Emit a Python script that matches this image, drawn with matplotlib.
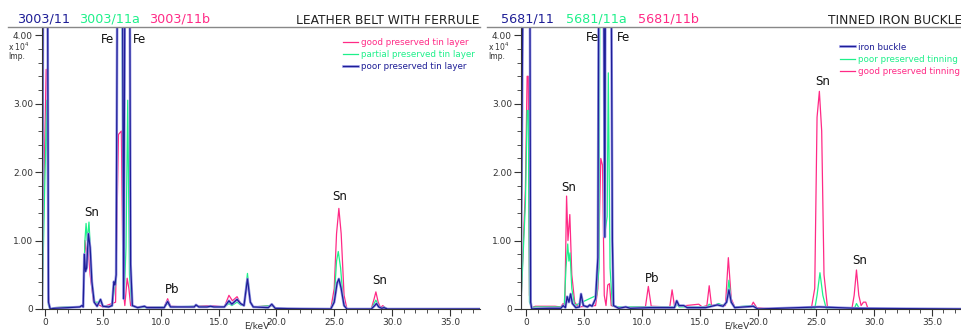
import matplotlib.pyplot as plt
import matplotlib.patheffects as pe
from matplotlib.lines import Line2D
from matplotlib.ticker import MultipleLocator, FixedLocator

plt.rcParams.update({'font.family': 'DejaVu Sans'})

BLUE = '#1e1e96'
GREEN = '#1ef08a'
PINK = '#ff2a86'

# ---------------- left panel: 3003/11 leather belt with ferrule (x 10^4 Imp.)
belt_poor_e = [-0.25, -0.1, 0.15, 0.3, 0.45, 0.8, 2.0, 3.0, 3.2, 3.3, 3.4, 3.5, 3.6, 3.75, 3.9, 4.05, 4.25,
               4.5, 4.8, 5.0, 5.5, 5.8, 5.95, 6.05, 6.15, 6.35, 6.6, 6.8, 7.0, 7.25, 7.4, 7.55, 8.0, 8.6, 8.8,
               10.3, 10.6, 10.85, 12.0, 12.9, 13.05, 13.3, 14.0, 14.3, 14.6, 15.5, 15.9, 16.15, 16.6, 16.9,
               17.2, 17.5, 17.75, 18.0, 19.3, 19.6, 19.9, 21.0, 24.7, 25.0, 25.25, 25.4, 25.6, 25.85, 26.1,
               28.2, 28.5, 28.65, 28.85, 29.1, 29.3, 29.6, 37.6]
belt_poor_y = [0, 9, 9, 0.1, 0, 0.01, 0.02, 0.03, 0.05, 0.03, 0.8, 0.55, 0.6, 1.1, 0.9, 0.4, 0.1,
               0.04, 0.14, 0.04, 0.03, 0.05, 0.4, 0.35, 0.5, 9, 9, 0.15, 9, 9, 0.65, 0.05, 0.02, 0.04, 0.02,
               0.02, 0.11, 0.03, 0.03, 0.03, 0.06, 0.03, 0.03, 0.04, 0.03, 0.03, 0.12, 0.07, 0.14, 0.08,
               0.05, 0.44, 0.1, 0.03, 0.02, 0.07, 0.01, 0.005, 0, 0.1, 0.38, 0.44, 0.3, 0.05, 0,
               0, 0.05, 0.08, 0.03, 0.01, 0.02, 0, 0]

belt_partial_e = [-0.25, -0.05, 0.15, 0.3, 0.45, 0.8, 2.0, 3.0, 3.3, 3.45, 3.55, 3.65, 3.8, 3.95, 4.1, 4.3,
                  4.8, 5.0, 5.8, 6.0, 6.15, 6.35, 6.55, 6.75, 6.85, 7.0, 7.15, 7.3, 7.5, 8.0, 10.3, 10.6,
                  10.85, 13.0, 15.5, 15.9, 16.15, 16.6, 16.9, 17.2, 17.5, 17.75, 18.0, 19.6, 19.9, 24.7,
                  25.0, 25.2, 25.35, 25.55, 25.8, 26.1, 28.2, 28.6, 28.85, 29.1, 29.3, 29.6, 37.6]
belt_partial_y = [0, 1.6, 3.05, 0.05, 0, 0.02, 0.03, 0.03, 0.05, 1.0, 1.25, 1.0, 1.27, 0.8, 0.3, 0.1,
                  0.1, 0.04, 0.04, 0.3, 0.4, 9, 9, 0.7, 0.2, 0.9, 3.05, 0.5, 0.05, 0.02, 0.03, 0.08,
                  0.03, 0.04, 0.03, 0.08, 0.05, 0.1, 0.06, 0.05, 0.52, 0.1, 0.03, 0.05, 0.01, 0,
                  0.15, 0.7, 0.84, 0.6, 0.08, 0, 0, 0.13, 0.04, 0.01, 0.03, 0, 0]

belt_good_e = [-0.25, -0.1, 0.1, 0.2, 0.3, 0.4, 0.5, 0.8, 3.0, 3.3, 3.45, 3.6, 3.7, 3.9, 4.2, 5.0, 6.1,
               6.35, 6.6, 6.75, 6.9, 7.1, 7.25, 7.4, 8.0, 10.3, 10.6, 10.85, 12.0, 13.0, 14.3, 15.5, 15.9,
               16.2, 16.6, 16.9, 17.2, 17.5, 17.75, 18.0, 19.6, 20.0, 24.7, 25.0, 25.2, 25.4, 25.6,
               25.85, 26.1, 28.2, 28.45, 28.6, 28.8, 29.0, 29.2, 29.5, 37.6]
belt_good_y = [0, 1.75, 3.5, 3.5, 0.22, 0.02, 0, 0.02, 0.03, 0.05, 1.0, 0.8, 0.95, 0.5, 0.1, 0.03, 0.1,
               2.55, 2.6, 0.3, 0.05, 0.45, 0.3, 0.05, 0.03, 0.03, 0.15, 0.04, 0.03, 0.04, 0.05, 0.03, 0.2,
               0.12, 0.18, 0.08, 0.05, 0.45, 0.1, 0.03, 0.05, 0.01, 0, 0.3, 1.1, 1.47, 1.1,
               0.2, 0, 0, 0.15, 0.25, 0.1, 0.02, 0.05, 0, 0]

# ---------------- right panel: 5681/11 tinned iron buckle
buckle_iron_e = [-0.45, -0.1, 0.28, 0.4, 0.5, 0.8, 2.0, 3.0, 3.2, 3.4, 3.55, 3.7, 3.85, 4.0, 4.3, 4.6, 4.75,
                 4.95, 5.3, 5.5, 5.7, 6.0, 6.2, 6.35, 6.6, 6.8, 6.9, 7.25, 7.45, 7.55, 8.0, 8.6, 9.0,
                 10.6, 12.8, 13.0, 13.2, 13.6, 13.9, 15.5, 16.5, 17.0, 17.3, 17.5, 17.7, 18.0, 19.6,
                 20.0, 25.3, 28.5, 37.6]
buckle_iron_y = [0, 9, 9, 0.1, 0, 0.005, 0.01, 0.01, 0.05, 0.02, 0.18, 0.1, 0.22, 0.08, 0.02, 0.03, 0.22,
                 0.05, 0.03, 0.06, 0.04, 0.15, 0.75, 9, 9, 1.05, 9, 9, 1.0, 0.05, 0.01, 0.03, 0.01,
                 0.02, 0.02, 0.12, 0.05, 0.05, 0.02, 0.02, 0.06, 0.04, 0.1, 0.28, 0.1, 0.02, 0.04,
                 0.0, 0.03, 0.01, 0]

buckle_poor_e = [-0.45, -0.05, 0.1, 0.2, 0.3, 0.5, 0.8, 3.0, 3.3, 3.45, 3.6, 3.7, 3.8, 3.95, 4.2, 6.1, 6.3,
                 6.45, 6.6, 6.8, 7.0, 7.1, 7.25, 7.45, 8.0, 10.6, 12.9, 13.0, 13.2, 15.6, 15.8, 16.1,
                 16.6, 17.0, 17.3, 17.5, 17.7, 18.0, 19.6, 20.0, 24.9, 25.1, 25.35, 25.6, 25.9, 28.3,
                 28.5, 28.7, 29.0, 37.6]
buckle_poor_y = [0, 1.55, 2.9, 2.9, 0.1, 0.02, 0.03, 0.03, 0.05, 0.6, 0.95, 0.7, 0.82, 0.3, 0.05, 0.2, 0.6,
                 9, 9, 1.1, 1.35, 3.45, 0.6, 0.05, 0.03, 0.03, 0.03, 0.08, 0.03, 0.03, 0.07, 0.04,
                 0.08, 0.05, 0.1, 0.42, 0.1, 0.03, 0.05, 0.0, 0, 0.2, 0.53, 0.2, 0, 0,
                 0.08, 0.02, 0, 0]

buckle_good_e = [-0.45, -0.05, 0.1, 0.2, 0.3, 0.5, 0.8, 2.5, 3.0, 3.2, 3.35, 3.5, 3.62, 3.78, 3.95, 4.2,
                 4.5, 6.0, 6.2, 6.45, 6.6, 6.75, 6.9, 7.05, 7.2, 7.35, 8.0, 10.3, 10.55, 10.8, 12.4,
                 12.6, 12.8, 13.0, 13.2, 14.9, 15.2, 15.6, 15.8, 16.0, 16.6, 17.2, 17.45, 17.7, 18.0,
                 19.4, 19.6, 19.9, 20.5, 24.6, 24.9, 25.1, 25.3, 25.5, 25.7, 26.0, 28.1, 28.3, 28.5,
                 28.7, 28.9, 29.1, 29.3, 29.5, 37.6]
buckle_good_y = [0, 1.75, 3.4, 3.4, 0.2, 0.02, 0.04, 0.04, 0.03, 0.08, 0.05, 1.65, 1.0, 1.38, 0.5, 0.1,
                 0.03, 0.05, 0.3, 2.2, 2.1, 0.2, 0.05, 0.35, 0.37, 0.05, 0.02, 0.03, 0.33, 0.04, 0.03,
                 0.28, 0.05, 0.1, 0.04, 0.07, 0.03, 0.05, 0.34, 0.05, 0.07, 0.05, 0.75, 0.15, 0.03,
                 0.03, 0.1, 0.02, 0.01, 0, 0.3, 2.8, 3.18, 2.6, 0.5, 0.02, 0, 0.2, 0.57,
                 0.2, 0.05, 0.1, 0.1, 0, 0]

belt_labels = [('Fe', 5.4, 3.94), ('Fe', 8.2, 3.94), ('Sn', 4.0, 1.41), ('Pb', 11.0, 0.28),
               ('Sn', 25.5, 1.64), ('Sn', 28.9, 0.41)]
buckle_labels = [('Fe', 5.7, 3.96), ('Fe', 8.4, 3.96), ('Sn', 3.7, 1.78), ('Pb', 10.9, 0.44),
                 ('Sn', 25.6, 3.32), ('Sn', 28.75, 0.71)]

xticks = [0, 5, 10, 15, 20, 25, 30, 35]
xticklabels = ['0', '5.0', '10.0', '15.0', '20.0', '25.0', '30.0', '35.0']
yticks = [0, 1, 2, 3, 4]
yticklabels = ['0', '1.00', '2.00', '3.00', '4.00']

fig = plt.figure(figsize=(9.62, 3.31), dpi=100)
H = 331.0
W = 962.0
halo = [pe.Stroke(linewidth=1.9, foreground='#9a9ae8'), pe.Normal()]


def panel(left_px, right_px, x0, series, labels, names, title, leg_xy):
    ax = fig.add_axes([left_px / W, 22 / H, (right_px - left_px) / W, 282 / H])
    for e, y, c, lab in series:
        kw = {}
        if c == BLUE:
            kw['path_effects'] = halo
        ax.plot(e, y, color=c, lw=0.9, label=lab, **kw)
    ax.set_xlim(x0, 37.6)
    ax.set_ylim(0, 4.12)
    for s in ['top', 'right']:
        ax.spines[s].set_visible(False)
    ax.spines['left'].set_color('#333333')
    ax.spines['bottom'].set_color('#333333')
    ax.xaxis.set_major_locator(FixedLocator(xticks))
    ax.set_xticklabels(xticklabels)
    ax.xaxis.set_minor_locator(MultipleLocator(1))
    ax.yaxis.set_major_locator(FixedLocator(yticks))
    ax.set_yticklabels(yticklabels)
    ax.yaxis.set_minor_locator(MultipleLocator(0.2))
    ax.tick_params(which='major', length=5, width=0.8, labelsize=6.5, colors='#333333', pad=1.5)
    ax.tick_params(which='minor', length=3, width=0.6, colors='#333333')
    for t, x, y in labels:
        ax.text(x, y, t, fontsize=8.5, ha='center', va='center', color='#111111')
    ax.text(0.49, -0.078, 'E/keV', transform=ax.transAxes, fontsize=6.5, ha='center', va='bottom',
            color='#333333')
    handles, labs = ax.get_legend_handles_labels()
    order = [labs.index(n) for n in names]
    ax.legend([handles[i] for i in order], [labs[i] for i in order], loc='upper left',
              bbox_to_anchor=leg_xy, frameon=False, fontsize=6.3, labelcolor='linecolor',
              handlelength=1.7, handletextpad=0.4, labelspacing=0.35, borderpad=0, borderaxespad=0)
    # header rule and titles
    fig.add_artist(Line2D([(left_px - 34) / W, right_px / W], [1 - 27 / H] * 2, color='#888888', lw=1.0))
    fig.text(right_px / W, 1 - 20 / H, title, ha='right', va='center', fontsize=8.8, color='#222222')
    return ax


panel(42, 480, -0.26,
      [(belt_good_e, belt_good_y, PINK, 'good preserved tin layer'),
       (belt_partial_e, belt_partial_y, GREEN, 'partial preserved tin layer'),
       (belt_poor_e, belt_poor_y, BLUE, 'poor preserved tin layer')],
      belt_labels,
      ['good preserved tin layer', 'partial preserved tin layer', 'poor preserved tin layer'],
      'LEATHER BELT WITH FERRULE', (0.687, 0.96))

panel(521, 962, -0.43,
      [(buckle_good_e, buckle_good_y, PINK, 'good preserved tinning'),
       (buckle_poor_e, buckle_poor_y, GREEN, 'poor preserved tinning'),
       (buckle_iron_e, buckle_iron_y, BLUE, 'iron buckle')],
      buckle_labels,
      ['iron buckle', 'poor preserved tinning', 'good preserved tinning'],
      'TINNED IRON BUCKLE', (0.723, 0.945))

# sample numbers above each panel
for x_px, txt, c in [(17, '3003/11', BLUE), (79, '3003/11a', GREEN), (149, '3003/11b', PINK),
                     (501, '5681/11', BLUE), (566, '5681/11a', GREEN), (638, '5681/11b', PINK)]:
    fig.text(x_px / W, 1 - 19 / H, txt, ha='left', va='center', fontsize=9.2, color=c)

for x_px in [8, 488]:
    fig.text(x_px / W, 1 - 51 / H, 'x 10$^4$\nImp.', ha='left', va='center', fontsize=5.5,
             color='#333333', linespacing=0.9)

fig.savefig('out.png', dpi=100)
